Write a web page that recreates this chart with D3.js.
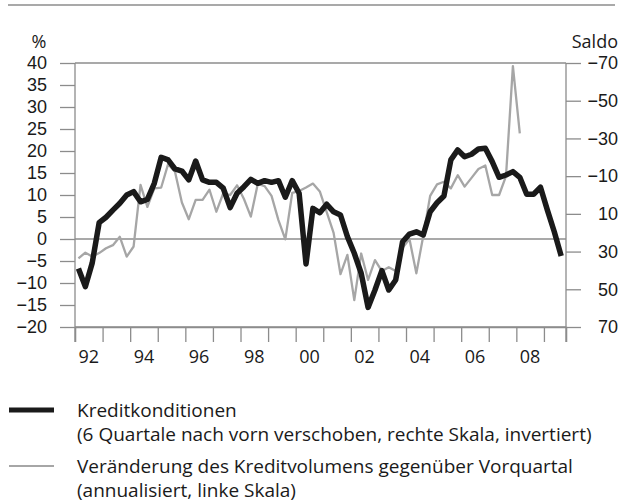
<!DOCTYPE html>
<html>
<head>
<meta charset="utf-8">
<script src="https://d3js.org/d3.v7.min.js"></script>
<style>
  body { margin: 0; background: #fff; }
  svg { font-family: "Open Sans", sans-serif; }
  .tick-label { font-size: 18px; fill: #1a1a1a; }
  .legend-text { font-size: 19px; fill: #1a1a1a; }
</style>
</head>
<body>
<div id="chart"></div>
<script>
// quarterly data, 1992 Q1 onwards
const startYear = 1992;
const endYear = 2009.8;

// Kreditkonditionen (Saldo, right scale, inverted), 1992Q1 - 2009Q3
const kreditkonditionen = [39, 48.6, 36, 14.7, 11.8, 8, 4.4, 0, -1.8, 3.6, 2.3, -6.2,
  -20, -18.6, -13.8, -12.7, -8, -18, -8, -6.7, -6.7, -3.6, 6.7, -0.9,
  -4.4, -8.3, -6.2, -7.6, -6.7, -7.6, 1.2, -7.6, -0.9, 36.6, 7.1, 9.4,
  4.9, 8.9, 10.6, 22.1, 30.9, 41.5, 59.6, 50.4, 40.1, 50.4, 45.1, 24.8,
  20.7, 19.5, 21.2, 8.9, 4.1, 0.5, -18.6, -23.9, -20.3, -21.6, -24.4, -24.8,
  -17.7, -9.4, -10.6, -12.4, -9.4, -0.4, -0.4, -4.1, 8, 19.5, 32.3];

// Veraenderung des Kreditvolumens (% annualisiert, left scale), 1992Q1 - 2008Q1
const kreditvolumen = [-4.4, -3.1, -4.0, -3.2, -2.1, -1.4, 0.5, -4.0, -1.7, 12.3,
  7.3, 11.5, 11.7, 17.0, 15.3, 8.3, 4.5, 8.9, 8.9, 11.2,
  6.2, 10.4, 10, 12.2, 9.1, 5.1, 12.5, 12.0, 9.8, 4.3,
  -0.1, 10.5, 10.9, 11.7, 12.6, 10.8, 6.1, 1.4, -8.0, -3.6,
  -13.9, -3.3, -9.3, -4.8, -7.3, -6.4, -7.3, -2, 0, -7.8,
  0.7, 9.8, 12.4, 13.0, 11.5, 14.5, 11.9, 13.9, 15.9, 16.7,
  10.0, 10.0, 14.3, 39.3, 24.0];

const leftTicks = [-20, -15, -10, -5, 0, 5, 10, 15, 20, 25, 30, 35, 40];
const rightTicks = [-70, -50, -30, -10, 10, 30, 50, 70];
const yearTicks = d3.range(1992, 2010);
const yearLabels = [1992, 1994, 1996, 1998, 2000, 2002, 2004, 2006, 2008];

const legendItems = [
  { lines: ["Kreditkonditionen", "(6 Quartale nach vorn verschoben, rechte Skala, invertiert)"], color: "#1a1a1a", width: 5.5 },
  { lines: ["Veränderung des Kreditvolumens gegenüber Vorquartal", "(annualisiert, linke Skala)"], color: "#a6a6a6", width: 2.3 }
];

const width = 623, height = 501;
const svg = d3.select("#chart").append("svg")
  .attr("width", width)
  .attr("height", height);

const x = d3.scaleLinear().domain([startYear, endYear]).range([75, 566]);
const yL = d3.scaleLinear().domain([-20, 40]).range([327, 63]);
const yR = d3.scaleLinear().domain([-70, 70]).range([63, 327]);
const qx = i => x(startYear + (i + 0.5) / 4);

const axisColor = "#8c8c8c";
const fmt = v => (v < 0 ? "\u2212" + Math.abs(v) : String(v));

// top rule
svg.append("line")
  .attr("x1", 8).attr("x2", 615).attr("y1", 5).attr("y2", 5)
  .attr("stroke", axisColor).attr("stroke-width", 1.5);

// frame: top, bottom, zero line
[yL(40), yL(-20), yL(0)].forEach(yy => {
  svg.append("line")
    .attr("x1", x.range()[0]).attr("x2", x.range()[1])
    .attr("y1", yy).attr("y2", yy)
    .attr("stroke", axisColor).attr("stroke-width", 1.3);
});

// left axis
const leftAxis = d3.axisLeft(yL).tickValues(leftTicks).tickSize(15).tickPadding(13).tickFormat(fmt);
const gL = svg.append("g").attr("transform", `translate(${x.range()[0]},0)`).call(leftAxis);

// right axis
const rightAxis = d3.axisRight(yR).tickValues(rightTicks).tickSize(15).tickFormat(fmt);
const gR = svg.append("g").attr("transform", `translate(${x.range()[1]},0)`).call(rightAxis);

// bottom axis: year boundaries, labels at mid-year
const bottomAxis = d3.axisBottom(x).tickValues(yearTicks.concat([endYear])).tickSize(15).tickFormat("");
const gB = svg.append("g").attr("transform", `translate(0,${yL(-20)})`).call(bottomAxis);

[gL, gR, gB].forEach(g => {
  g.select(".domain").attr("stroke", axisColor).attr("stroke-width", 1.3);
  g.selectAll(".tick line").attr("stroke", axisColor).attr("stroke-width", 1.3);
  g.selectAll("text").attr("class", "tick-label").attr("font-family", null).attr("font-size", null);
});
gL.select(".domain").attr("d", `M0,${yL(40)}V${yL(-20) + 15}`);
gR.select(".domain").attr("d", `M0,${yR(-70)}V${yR(70) + 15}`);
gR.selectAll("text").attr("text-anchor", "end").attr("x", 52);

svg.append("g").selectAll("text")
  .data(yearLabels)
  .join("text")
  .attr("class", "tick-label")
  .attr("x", d => x(d + 0.5))
  .attr("y", 363)
  .attr("text-anchor", "middle")
  .text(d => String(d).slice(2));

// unit labels
svg.append("text").attr("class", "tick-label").attr("x", 39).attr("y", 48)
  .attr("text-anchor", "middle").text("%");
svg.append("text").attr("class", "tick-label").attr("x", 618).attr("y", 48)
  .attr("text-anchor", "end").text("Saldo");

// lines
const lineL = d3.line().x((d, i) => qx(i)).y(d => yL(d));
const lineR = d3.line().x((d, i) => qx(i)).y(d => yR(d));

svg.append("path")
  .datum(kreditvolumen)
  .attr("d", lineL)
  .attr("fill", "none")
  .attr("stroke", legendItems[1].color)
  .attr("stroke-width", legendItems[1].width)
  .attr("stroke-linejoin", "round");

svg.append("path")
  .datum(kreditkonditionen)
  .attr("d", lineR)
  .attr("fill", "none")
  .attr("stroke", legendItems[0].color)
  .attr("stroke-width", legendItems[0].width)
  .attr("stroke-linejoin", "round");

// legend
const legend = svg.append("g");
const legendY = [410, 466];
legendItems.forEach((item, k) => {
  legend.append("line")
    .attr("x1", 9).attr("x2", 54)
    .attr("y1", legendY[k]).attr("y2", legendY[k])
    .attr("stroke", item.color).attr("stroke-width", k === 0 ? 5 : 2);
  item.lines.forEach((t, j) => {
    legend.append("text")
      .attr("class", "legend-text")
      .attr("x", 77)
      .attr("y", legendY[k] + 7 + j * 23.5)
      .text(t);
  });
});
</script>
</body>
</html>
